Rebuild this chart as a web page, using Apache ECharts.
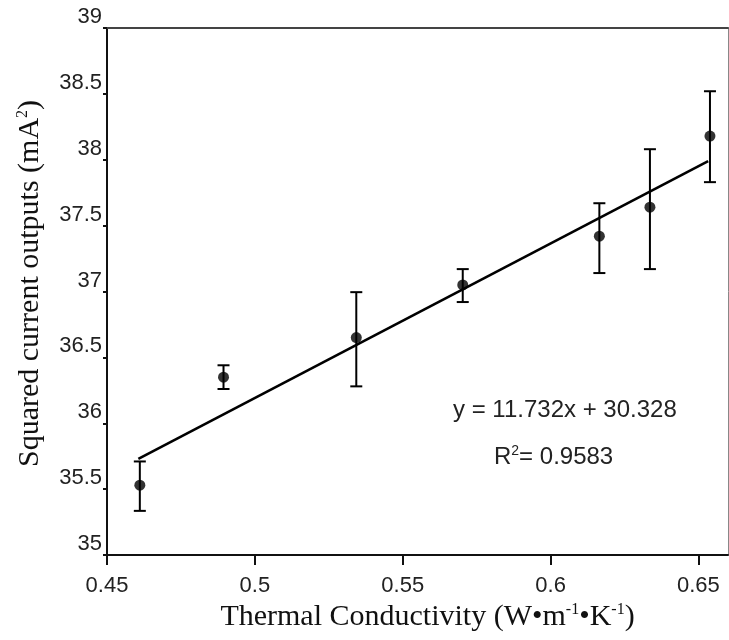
<!DOCTYPE html>
<html>
<head>
<meta charset="utf-8">
<script src="https://cdn.jsdelivr.net/npm/echarts@6/dist/echarts.min.js"></script>
<style>html,body{margin:0;padding:0;background:#fff;}#c{width:729px;height:640px;}</style>
</head>
<body>
<div id="c"></div>
<script>
// Data
var conductivity = [0.4611, 0.4894, 0.5343, 0.5703, 0.6165, 0.6336, 0.6539];
var squaredCurrent = [35.53, 36.35, 36.65, 37.05, 37.42, 37.64, 38.18];
var errLow = [35.335, 36.26, 36.28, 36.92, 37.14, 37.17, 37.83];
var errHigh = [35.71, 36.44, 36.995, 37.17, 37.67, 38.08, 38.52];
var fitX = [0.4606, 0.6533];
var fitY = [35.73, 37.99];
var xTicks = [0.45, 0.5, 0.55, 0.6, 0.65];
var yTicks = [35, 35.5, 36, 36.5, 37, 37.5, 38, 38.5, 39];
var equationText = 'y = 11.732x + 30.328';
var r2Value = '0.9583';

var points = conductivity.map(function (x, i) { return [x, squaredCurrent[i]]; });
var errData = conductivity.map(function (x, i) { return [x, errLow[i], errHigh[i]]; });
var fitData = fitX.map(function (x, i) { return [x, fitY[i]]; });

var chart = echarts.init(document.getElementById('c'), null, {renderer: 'canvas'});
var serif = '"Liberation Serif", "Times New Roman", serif';
var sans = '"Liberation Sans", Arial, sans-serif';

chart.setOption({
  animation: false,
  backgroundColor: '#fff',
  grid: {left: 107, right: 1, top: 28, bottom: 85, show: false},
  xAxis: [{
    type: 'value', min: 0.45, max: 0.66, interval: 0.05,
    axisLine: {show: true, onZero: false, lineStyle: {color: '#111', width: 2}},
    axisTick: {show: true, length: 10, lineStyle: {color: '#111', width: 2},
      customValues: xTicks},
    axisLabel: {color: '#222', fontFamily: sans, fontSize: 22, margin: 20,
      customValues: xTicks, formatter: function (v) { return String(+v.toFixed(2)); }},
    splitLine: {show: false},
    name: '{p|}{a|Thermal Conductivity (W•m}{s|-1}{a|•K}{s|-1}{a|)}',
    nameLocation: 'middle', nameGap: 44,
    nameTextStyle: {rich: {
      p: {width: 20},
      a: {fontFamily: serif, fontSize: 30, color: '#111'},
      s: {fontFamily: serif, fontSize: 16, color: '#111', verticalAlign: 'top', padding: [0, 0, 14, 0]}
    }}
  }, {
    type: 'value', position: 'top', min: 0.45, max: 0.66,
    axisLine: {show: true, onZero: false, lineStyle: {color: '#444', width: 2}},
    axisTick: {show: false}, axisLabel: {show: false}, splitLine: {show: false}
  }],
  yAxis: [{
    type: 'value', min: 35, max: 39, interval: 0.5,
    axisLine: {show: true, onZero: false, lineStyle: {color: '#111', width: 2}},
    axisTick: {show: true, length: 4, lineStyle: {color: '#111', width: 2}},
    axisLabel: {color: '#222', fontFamily: sans, fontSize: 22, margin: 5, verticalAlign: 'bottom',
      customValues: yTicks, formatter: function (v) { return String(+v.toFixed(1)); }},
    splitLine: {show: false},
    name: '{p|}{a|Squared current outputs (mA}{s|2}{a|)}',
    nameLocation: 'middle', nameGap: 62, nameRotate: 90,
    nameTextStyle: {rich: {
      p: {width: 16},
      a: {fontFamily: serif, fontSize: 30, color: '#111'},
      s: {fontFamily: serif, fontSize: 16, color: '#111', verticalAlign: 'top', padding: [0, 0, 14, 0]}
    }}
  }, {
    type: 'value', position: 'right', min: 35, max: 39,
    axisLine: {show: true, onZero: false, lineStyle: {color: '#888', width: 1}},
    axisTick: {show: false}, axisLabel: {show: false}, splitLine: {show: false}
  }],
  graphic: [
    {type: 'text', left: 453, top: 398, style: {text: equationText, font: '24px ' + sans, fill: '#222'}},
    {type: 'text', left: 494, top: 444, style: {
      text: '{a|R}{s|2}{a|= ' + r2Value + '}',
      rich: {a: {font: '24px ' + sans, fill: '#222'}, s: {font: '14px ' + sans, fill: '#222', verticalAlign: 'top', padding: [0,0,12,0]}}
    }}
  ],
  series: [
    {
      type: 'line', data: fitData, symbol: 'none',
      lineStyle: {color: '#000', width: 2.6}, z: 2
    },
    {
      type: 'custom', data: errData, z: 3,
      renderItem: function (params, api) {
        var x = api.value(0);
        var lo = api.coord([x, api.value(1)]);
        var hi = api.coord([x, api.value(2)]);
        var w = 6;
        var st = {stroke: '#000', lineWidth: 2};
        return {type: 'group', children: [
          {type: 'line', shape: {x1: lo[0], y1: lo[1], x2: hi[0], y2: hi[1]}, style: st},
          {type: 'line', shape: {x1: lo[0] - w, y1: lo[1], x2: lo[0] + w, y2: lo[1]}, style: st},
          {type: 'line', shape: {x1: hi[0] - w, y1: hi[1], x2: hi[0] + w, y2: hi[1]}, style: st}
        ]};
      }
    },
    {
      type: 'scatter', data: points, symbol: 'circle', symbolSize: 11,
      itemStyle: {color: '#000'}, z: 4
    }
  ]
});
</script>
</body>
</html>
